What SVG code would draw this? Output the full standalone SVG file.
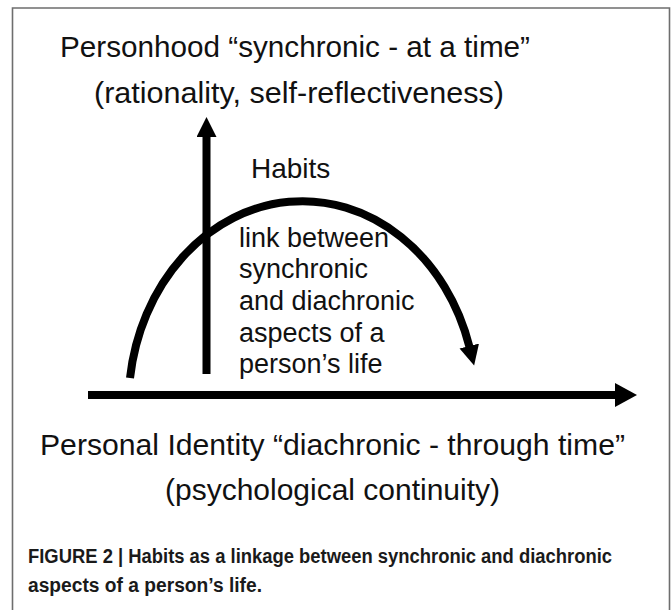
<svg xmlns="http://www.w3.org/2000/svg" width="671" height="610" viewBox="0 0 671 610">
<style>
.t{font-family:"Liberation Sans",Arial,sans-serif;fill:#111}
.big{font-size:30px}
.hab{font-size:28px}
.mid{font-size:27px}
.cap{font-family:"Liberation Sans",Arial,sans-serif;font-weight:bold;font-size:20px;fill:#1a1a1a}
.ln{stroke:#000;stroke-width:8;fill:none}
</style>
<defs>
<marker id="ah" markerUnits="userSpaceOnUse" markerWidth="24" markerHeight="26" refX="1" refY="12" orient="auto">
<path d="M0,0 L22,12 L0,24 z" fill="#000"/>
</marker>
<marker id="ahv" markerUnits="userSpaceOnUse" markerWidth="22" markerHeight="22" refX="1" refY="10" orient="auto">
<path d="M0,0 L20,10 L0,20 z" fill="#000"/>
</marker>
</defs>
<rect width="671" height="610" fill="#fff"/>
<path d="M12.5,612 V8 H669.5 V612" fill="none" stroke="#6e6e6e" stroke-width="1.6"/>
<g id="personhood">
<text class="t big" x="60" y="57" textLength="470" lengthAdjust="spacingAndGlyphs">Personhood “synchronic - at a time”</text>
<text class="t big" x="94" y="103" textLength="410" lengthAdjust="spacingAndGlyphs">(rationality, self-reflectiveness)</text>
</g>
<g id="personal-identity">
<text class="t big" x="40" y="455" textLength="585" lengthAdjust="spacingAndGlyphs">Personal Identity “diachronic - through time”</text>
<text class="t big" x="165" y="500" textLength="335" lengthAdjust="spacingAndGlyphs">(psychological continuity)</text>
</g>
<g id="habits">
<text class="t hab" x="251" y="178">Habits</text>
<text class="t mid" x="239" y="247">link between</text>
<text class="t mid" x="239" y="278">synchronic</text>
<text class="t mid" x="239" y="310">and diachronic</text>
<text class="t mid" x="239" y="342">aspects of a</text>
<text class="t mid" x="239" y="373">person’s life</text>
</g>
<g id="connectors">
<line class="ln" x1="206.5" y1="374" x2="206.5" y2="136" marker-end="url(#ahv)"/>
<line class="ln" x1="88" y1="395" x2="616" y2="395" marker-end="url(#ah)"/>
<path class="ln" d="M130,378 A174,203 0 0 1 469.5,347" marker-end="url(#ahv)"/>
</g>
<g id="caption">
<text class="cap" x="28" y="563" textLength="584" lengthAdjust="spacingAndGlyphs">FIGURE 2 | Habits as a linkage between synchronic and diachronic</text>
<text class="cap" x="28" y="592" textLength="234" lengthAdjust="spacingAndGlyphs">aspects of a person’s life.</text>
</g>
</svg>
